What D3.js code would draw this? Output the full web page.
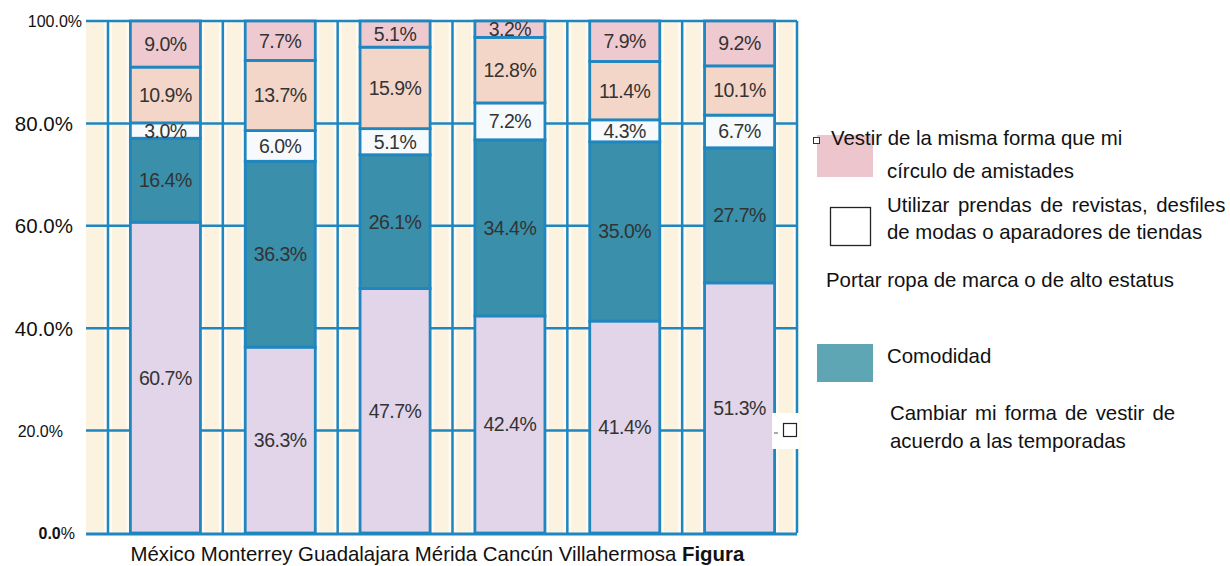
<!DOCTYPE html>
<html><head><meta charset="utf-8">
<script src="https://cdn.jsdelivr.net/npm/d3@7"></script>
<style>body{margin:0;background:#fff}svg{display:block}</style>
</head><body><svg id="c" width="1230" height="566"></svg>
<script>
// ---- data ----
const categories = ["México","Monterrey","Guadalajara","Mérida","Cancún","Villahermosa"];
const cambiar   = [60.7, 36.3, 47.7, 42.4, 41.4, 51.3];
const comodidad = [16.4, 36.3, 26.1, 34.4, 35.0, 27.7];
const utilizar  = [3.0, 6.0, 5.1, 7.2, 4.3, 6.7];
const portar    = [10.9, 13.7, 15.9, 12.8, 11.4, 10.1];
const vestir    = [9.0, 7.7, 5.1, 3.2, 7.9, 9.2];
const yTicks = [0, 20, 40, 60, 80, 100];
const xTitle = "Figura";
const legendLabels = [
  ["Vestir de la misma forma que mi", "círculo de amistades"],
  ["Utilizar prendas de revistas, desfiles", "de modas o aparadores de tiendas"],
  ["Portar ropa de marca o de alto estatus"],
  ["Comodidad"],
  ["Cambiar mi forma de vestir de", "acuerdo a las temporadas"]
];

// ---- build ----
const keys = ["cambiar","comodidad","utilizar","portar","vestir"];
const seriesVals = {cambiar, comodidad, utilizar, portar, vestir};
const rows = categories.map((c,i)=>{const r={cat:c}; keys.forEach(k=>r[k]=seriesVals[k][i]); return r;});
const colors = {cambiar:"#e2d5ea", comodidad:"#3a8fab", utilizar:"#f6fafc", portar:"#f4d6c9", vestir:"#efc9d0"};
const BLUE = "#1f86bf";

const svg = d3.select("#c");
const pL = 86, pR = 797, pT = 21, pB = 533;
const x = d3.scaleBand().domain(categories).range([108, pR]).paddingInner(0.39).paddingOuter(0.195);
const y = d3.scaleLinear().domain([0,1]).range([pB, pT]);

const stack = d3.stack().keys(keys).offset(d3.stackOffsetExpand)(rows);

// background
svg.append("rect").attr("x",pL).attr("y",pT).attr("width",pR-pL).attr("height",pB-pT).attr("fill","#fbf2df");
const bounds = [pL].concat(d3.range(categories.length+1).map(i=>108 + i*x.step()));
const g0 = svg.append("g");
categories.forEach(c=>{
  const b0 = x(c), b1 = x(c)+x.bandwidth();
  [b0-4, b1+1].forEach(xx=>g0.append("rect").attr("x",xx).attr("y",pT).attr("width",3).attr("height",pB-pT).attr("fill","#fdfbf4"));
});
bounds.slice(1).forEach(bx=>{
  [bx-4, bx+1].forEach(xx=>g0.append("rect").attr("x",xx).attr("y",pT).attr("width",3).attr("height",pB-pT).attr("fill","#fdfbf4"));
});
// horizontal gridlines
svg.append("g").selectAll("line").data(yTicks.filter(t=>t>0)).join("line")
  .attr("x1",pL).attr("x2",pR).attr("y1",d=>y(d/100)).attr("y2",d=>y(d/100))
  .attr("stroke",BLUE).attr("stroke-width",2.5);
// vertical column lines
svg.append("g").selectAll("line").data(bounds.slice(1)).join("line")
  .attr("x1",d=>d).attr("x2",d=>d).attr("y1",pT).attr("y2",pB)
  .attr("stroke",BLUE).attr("stroke-width",2.5);

// bars
const gb = svg.append("g");
stack.forEach(s=>{
  gb.append("g").selectAll("rect").data(s).join("rect")
    .attr("x",d=>x(d.data.cat)).attr("width",x.bandwidth())
    .attr("y",d=>y(d[1])).attr("height",d=>y(d[0])-y(d[1]))
    .attr("fill",colors[s.key]).attr("stroke",BLUE).attr("stroke-width",2.8);
});
// labels
stack.forEach(s=>{
  gb.append("g").selectAll("text").data(s).join("text")
    .attr("x",d=>x(d.data.cat)+x.bandwidth()/2)
    .attr("y",d=>(y(d[0])+y(d[1]))/2)
    .attr("text-anchor","middle").attr("dominant-baseline","central")
    .attr("font-family","Liberation Sans, Arial, sans-serif").attr("font-size",19.5)
    .attr("letter-spacing",-0.5).attr("fill","#333")
    .text(d=>d.data[s.key].toFixed(1)+"%");
});
// baseline
svg.append("line").attr("x1",pL).attr("x2",pR).attr("y1",pB+1).attr("y2",pB+1).attr("stroke",BLUE).attr("stroke-width",3);

// y axis
const tickStyle = {0:{fs:16,dx:-11}, 20:{fs:16,dx:-23}, 40:{fs:20.5,dx:-13}, 60:{fs:20.5,dx:-13}, 80:{fs:20.5,dx:-13}, 100:{fs:16,dx:-4}};
const ya = svg.append("g").attr("transform",`translate(${pL},0)`)
  .call(d3.axisLeft(y).tickValues(yTicks.map(v=>v/100)).tickSize(0).tickFormat(d=>(d*100).toFixed(1)+"%"));
ya.select(".domain").remove();
ya.selectAll(".tick text").each(function(d){
  const v = Math.round(d*100), st = tickStyle[v];
  const t = d3.select(this).attr("x",st.dx).attr("font-size",st.fs)
    .attr("font-family","Liberation Sans, Arial, sans-serif").attr("fill","#111").attr("dy","0.35em");
  if(v===0){
    t.text(null);
    t.append("tspan").attr("font-weight","bold").text((0).toFixed(1));
    t.append("tspan").text("%");
  }
});

// category line
const xl = svg.append("text").attr("x",x(categories[0])).attr("y",561)
  .attr("font-family","Liberation Sans, Arial, sans-serif").attr("font-size",20.4).attr("fill","#111");
xl.append("tspan").text(categories.join(" ")+" ");
xl.append("tspan").attr("font-weight","bold").text(xTitle);

// odd marks near the right border
svg.append("rect").attr("x",772).attr("y",413).attr("width",27).attr("height",36).attr("fill","#fff");
svg.append("line").attr("x1",774).attr("x2",778).attr("y1",433).attr("y2",433).attr("stroke","#555").attr("stroke-width",1);
svg.append("rect").attr("x",783.5).attr("y",423.5).attr("width",13).attr("height",13).attr("fill","#fff").attr("stroke","#222").attr("stroke-width",1.2);

// legend
const lf = "Liberation Sans, Arial, sans-serif";
const L = svg.append("g").attr("font-family",lf).attr("font-size",20.4).attr("fill","#111");
L.append("rect").attr("x",817).attr("y",135).attr("width",56).attr("height",42).attr("fill","#ecc6cc");
L.append("rect").attr("x",813.5).attr("y",137.5).attr("width",6).attr("height",6).attr("fill","#fff").attr("stroke","#333").attr("stroke-width",1);
L.append("text").attr("x",831).attr("y",145).text(legendLabels[0][0]);
L.append("text").attr("x",887).attr("y",178).text(legendLabels[0][1]);
L.append("rect").attr("x",830.5).attr("y",207.5).attr("width",40).attr("height",38).attr("fill","#fff").attr("stroke","#222").attr("stroke-width",1.3);
L.append("text").attr("x",887).attr("y",212).attr("word-spacing",3).text(legendLabels[1][0]);
L.append("text").attr("x",887).attr("y",239).text(legendLabels[1][1]);
L.append("text").attr("x",826).attr("y",287).text(legendLabels[2][0]);
L.append("rect").attr("x",817).attr("y",344).attr("width",56).attr("height",38).attr("fill","#5fa6b5");
L.append("text").attr("x",887).attr("y",363).text(legendLabels[3][0]);
L.append("text").attr("x",890).attr("y",420).attr("word-spacing",2.4).text(legendLabels[4][0]);
L.append("text").attr("x",890).attr("y",448).text(legendLabels[4][1]);
</script></body></html>
